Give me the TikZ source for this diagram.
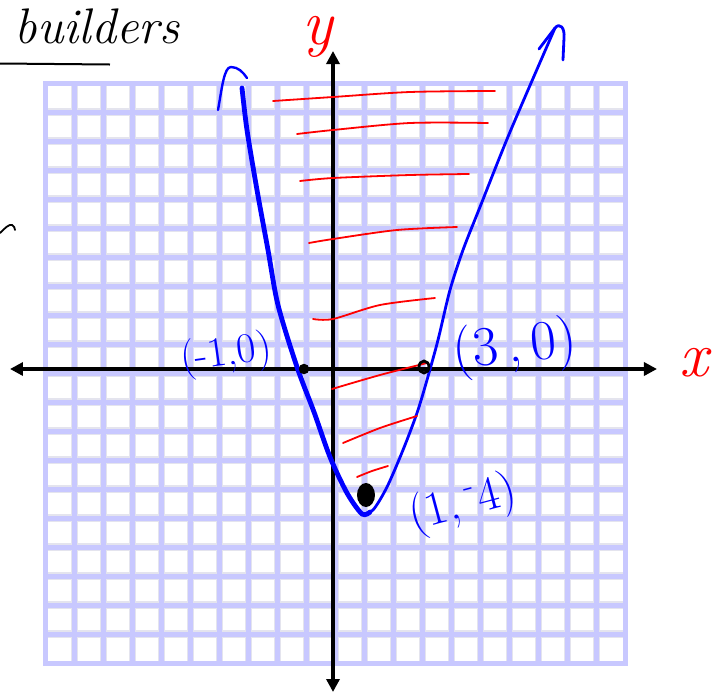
\documentclass[tikz,border=0pt]{standalone}
\usepackage{tikz}
\usetikzlibrary{arrows.meta}

\definecolor{gridblue}{RGB}{200,200,255}
\definecolor{gridshade}{RGB}{228,228,238}

\begin{document}
\begin{tikzpicture}[x=0.5pt,y=-0.5pt]
	\tikzset{gridline/.style={gridblue,line width=2.5pt,line cap=rect},
		gridhalo/.style={gridshade,line width=3.6pt},
		axis/.style={line width=2pt,{Triangle[length=6.5pt,width=6.5pt]}-{Triangle[length=6.5pt,width=6.5pt]}},
		hatch/.style={red,line width=0.9pt,line cap=round},
		armthick/.style={blue,line width=2.4pt,line cap=round,line join=round},
		armthin/.style={blue,line width=1.4pt,line cap=round,line join=round},
		coordlabel/.style={blue,inner sep=0pt},
		axislabel/.style={red,inner sep=0pt,anchor=base,font=\fontsize{32}{34}\selectfont\itshape}};
	\useasboundingbox (0,0) rectangle (720,692);
	\foreach \i in {1,...,19}
		{\draw[gridhalo] (45.5+29*\i,83) -- (45.5+29*\i,663);
		 \draw[gridhalo] (45.5,83+29*\i) -- (625.5,83+29*\i);}
	\foreach \i in {0,...,20}
		{\draw[gridline] (45.5+29*\i,83) -- (45.5+29*\i,663);
		 \draw[gridline] (45.5,83+29*\i) -- (625.5,83+29*\i);}

	\node[inner sep=0pt,anchor=base,font=\fontsize{25}{27}\selectfont\itshape] (title) at (97,43) {builders};
	\coordinate (ulA) at (0,63.5);
	\coordinate (ulB) at (110,64.5);
	\draw[line width=1pt] (ulA) -- (ulB);
	\draw[line width=0.9pt,line cap=round] (0,233) .. controls (5,228) and (9,224) .. (12,225) .. controls (14,226) and (15,228) .. (15,230);

	\coordinate (xl) at (10,369);
	\coordinate (xr) at (657,369);
	\coordinate (yt) at (333,51);
	\coordinate (yb) at (333,692);
	\draw[axis] (xl) -- (xr);
	\draw[axis] (yb) -- (yt);
	\node[axislabel] (ylab) at (318,44) {y};
	\node[axislabel] (xlab) at (694,376) {x};

	\draw[armthin,line width=1.2pt] (218,110) .. controls (222,88) and (224,67) .. (231,67) .. controls (238,67) and (243,72) .. (247,78);
	\draw[armthick] plot[smooth] coordinates {(242,88) (247,130) (257,190) (268,250) (278,305) (297,367) (314,412) (330,457) (347,493) (362,514) (370,512)};
	\draw[armthin] plot[smooth] coordinates {(362,514) (373,510) (387,487) (403,450) (417,413) (427,380) (438,340) (450,290) (463,250) (480,207) (510,132) (555,28)};
	\draw[armthin] (539,49) -- (555,28) .. controls (560,22) and (565,28) .. (564,38) -- (563,60);

	\draw[hatch] plot[smooth] coordinates {(273,101) (333,97) (410,92) (495,91)};
	\draw[hatch] plot[smooth] coordinates {(297,134) (333,130) (410,123) (488,123)};
	\draw[hatch] plot[smooth] coordinates {(300,181) (333,178) (410,175) (469,174)};
	\draw[hatch] plot[smooth] coordinates {(309,243) (333,239) (397,230) (457,227)};
	\draw[hatch] plot[smooth] coordinates {(313,319) (333,319) (380,305) (435,298)};
	\draw[hatch] plot[smooth] coordinates {(332,389) (380,375) (427,363)};
	\draw[hatch] plot[smooth] coordinates {(343,443) (380,428) (417,416)};
	\draw[hatch] plot[smooth] coordinates {(357,477) (372,471) (388,466)};

	\draw[black,line width=1.6pt] (304,369) circle (3.5);
	\draw[black,line width=1.4pt] (424,367) ellipse (5 and 6);
	\fill[black] (366,495) ellipse (9 and 12);

	\node[coordlabel,font=\fontsize{21}{23}\selectfont,rotate=8] (ptneg) at (226,355) {(-1,0)};
	\node[coordlabel,font=\fontsize{28}{30}\selectfont,rotate=6] (ptpos) at (515,348) {(3\,,\,0)};
	\node[coordlabel,font=\fontsize{24}{26}\selectfont,rotate=15] (ptvert) at (463,505) {(1,\,\textsuperscript{-}4)};
\end{tikzpicture}
\end{document}
